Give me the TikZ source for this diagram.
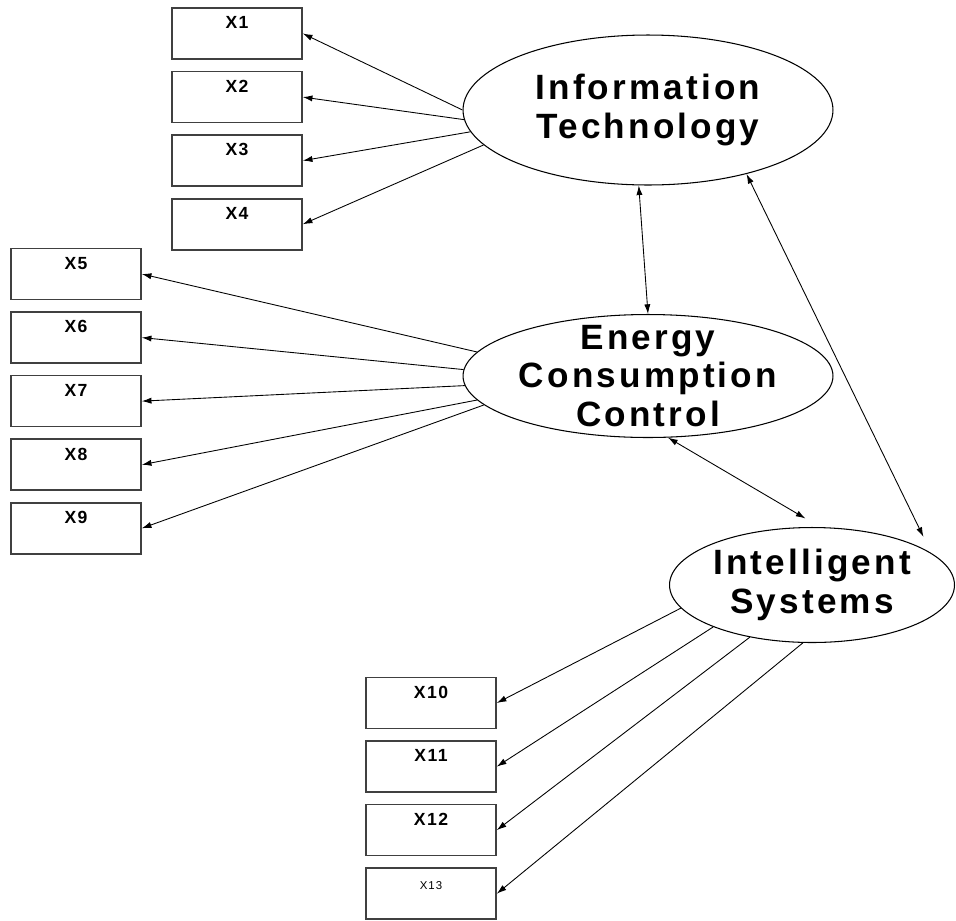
\documentclass[tikz,border=0pt]{standalone}
\usepackage{fontspec}
\newfontfamily\latentfont{Liberation Sans}[LetterSpace=9]
\newfontfamily\itemfont{Liberation Sans}[LetterSpace=8]
\usetikzlibrary{shapes.geometric,positioning,arrows.meta}

\tikzset{
    latent/.style={draw, ellipse, line width=0.6pt, inner sep=0pt},
    latentname/.style={align=center, font=\latentfont\bfseries\fontsize{20}{22}\selectfont},
    item/.style={draw=black!75, line width=0.9pt, minimum width=2.6cm, minimum height=1.02cm,
        inner sep=0pt, text height=11.8pt, text depth=17.1pt,
        font=\itemfont\bfseries\fontsize{10}{11}\selectfont},
    load/.style={-{Latex[length=5.5pt,width=3.5pt]}, line width=0.5pt},
    covar/.style={{Latex[length=5.5pt,width=3.5pt]}-{Latex[length=5.5pt,width=3.5pt]}, line width=0.5pt}
}

\begin{document}
\begin{tikzpicture}[x=0.02cm, y=-0.02cm]
        \useasboundingbox (0,0) rectangle (956,920);

        % latent variables
        \node[latent, minimum width=7.4cm, minimum height=3cm] (it) at (648,110) {};
        \node[latent, minimum width=7.4cm, minimum height=2.46cm] (ecc) at (648,376) {};
        \node[latent, minimum width=5.7cm, minimum height=2.3cm] (is) at (812,585) {};
        \node[latentname] (itname) at (it.center) {Information\\Technology};
        \node[latentname] (eccname) at (ecc.center) {Energy\\Consumption\\Control};
        \node[latentname] (isname) at (is.center) {Intelligent\\Systems};

        % indicators
        \node[item] (x1) at (237,33.5) {X1};
        \node[item, below=0.22cm of x1] (x2) {X2};
        \node[item, below=0.22cm of x2] (x3) {X3};
        \node[item, below=0.22cm of x3] (x4) {X4};

        \node[item] (x5) at (76,274) {X5};
        \node[item, below=0.22cm of x5] (x6) {X6};
        \node[item, below=0.22cm of x6] (x7) {X7};
        \node[item, below=0.22cm of x7] (x8) {X8};
        \node[item, below=0.22cm of x8] (x9) {X9};

        \node[item] (x10) at (431,703) {X10};
        \node[item, below=0.22cm of x10] (x11) {X11};
        \node[item, below=0.22cm of x11] (x12) {X12};
        \node[item, below=0.22cm of x12, font=\latentfont\fontsize{6.5}{7}\selectfont] (x13) {X13};

        \draw[load] (it.180) -- (x1.east);
        \draw[load] (it.183) -- (x2.east);
        \draw[load] (it.187.5) -- (x3.east);
        \draw[load] (it.192) -- (x4.east);

        \draw[load] (ecc.172) -- (x5.east);
        \draw[load] (ecc.178) -- (x6.east);
        \draw[load] (ecc.183.5) -- (x7.east);
        \draw[load] (ecc.188.3) -- (x8.east);
        \draw[load] (ecc.190) -- (x9.east);

        \draw[load] (is.190.6) -- (x10.east);
        \draw[load] (is.203) -- (x11.east);
        \draw[load] (is.220) -- (x12.east);
        \draw[load] (is.261) -- (x13.east);

        % correlations
        \draw[covar] (it.263) -- (ecc.north);
        \draw[covar, shorten >=0.34cm] (ecc.288.4) -- (is.82.2);
        \draw[covar, shorten >=0.36cm] (it.327.2) -- (is.15);
    \end{tikzpicture}
\end{document}
